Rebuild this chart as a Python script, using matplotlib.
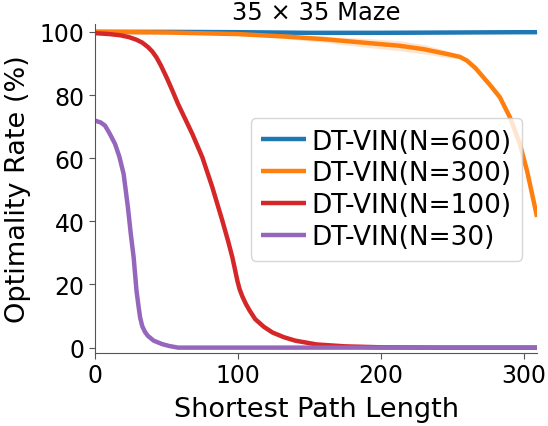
import numpy as np
import matplotlib.pyplot as plt

# values (x = shortest path length, y = optimality rate %)
x_600 = [0, 50, 100, 150, 200, 250, 300, 310]
y_600 = [100, 100, 99.9, 99.7, 99.7, 99.8, 99.9, 99.9]
band_600 = [0.1, 0.2, 0.3, 0.4, 0.4, 0.3, 0.2, 0.2]

x_300 = [0, 50, 100, 130, 160, 190, 213, 230, 248, 255, 260, 266, 271.5, 277, 283,
         290, 297, 302, 306, 309]
y_300 = [100, 99.8, 99.3, 98.6, 97.7, 96.5, 95.6, 94.5, 92.8, 92.1, 90.9, 88.5, 85.6,
         82.7, 79.3, 73, 64.5, 56, 47.7, 41.4]
band_300 = [0.1, 0.2, 0.4, 0.6, 1.0, 1.4, 1.6, 1.5, 1.0, 0.6, 0.5, 0.5, 0.5, 0.5, 0.5,
            0.5, 0.5, 0.5, 0.5, 0.5]

x_100 = [0, 10, 18, 24, 29, 33, 37, 40, 43, 46, 50, 54, 58, 68, 75, 82, 89, 93, 96, 98,
         99.5, 101, 103, 105.5, 108, 112, 118, 124, 132, 140, 155, 175, 200, 240, 310]
y_100 = [99.6, 99.3, 98.9, 98.3, 97.5, 96.6, 95.2, 93.8, 91.9, 89.4, 85.6, 81.5, 77.2,
         67.7, 60.3, 50.8, 40.2, 33.8, 28.6, 24.4, 21.2, 18.6, 16.2, 13.8, 11.8, 9, 6.6,
         4.8, 3.3, 2.2, 1.0, 0.4, 0.1, 0, 0]

x_30 = [0, 4, 7, 10, 14, 17, 20, 23, 25, 27, 29, 30.5, 31.5, 33, 35, 37, 41, 47, 52,
        58, 100, 200, 310]
y_30 = [71.9, 71.3, 70.3, 68, 64.5, 60.5, 55, 44.4, 36, 28.6, 18, 12.8, 9.6, 6.8, 4.9,
        3.7, 2.2, 1.1, 0.5, 0, 0, 0, 0]

labels = ['DT-VIN(N=600)', 'DT-VIN(N=300)', 'DT-VIN(N=100)', 'DT-VIN(N=30)']
colors = ['#1f77b4', '#ff7f0e', '#d62728', '#9467bd']

fig, ax = plt.subplots(figsize=(5.48, 4.27), dpi=100)

lw = 3.2
style = dict(lw=lw, solid_capstyle='butt', solid_joinstyle='round')
ax.plot(x_600, y_600, color=colors[0], label=labels[0], **style)
ax.fill_between(x_600, np.array(y_600) - band_600, np.array(y_600) + band_600,
                color=colors[0], alpha=0.2, lw=0)
ax.plot(x_300, y_300, color=colors[1], label=labels[1], **style)
ax.fill_between(x_300, np.array(y_300) - band_300, np.array(y_300) + band_300,
                color=colors[1], alpha=0.2, lw=0)
ax.plot(x_100, y_100, color=colors[2], label=labels[2], **style)
ax.plot(x_30, y_30, color=colors[3], label=labels[3], **style)

ax.set_xlim(0, 309)
ax.set_ylim(-1.7, 102.5)
ax.set_xticks([0, 100, 200, 300])
ax.set_yticks([0, 20, 40, 60, 80, 100])
ax.tick_params(labelsize=17, color='#555555', length=4)
ax.set_xlabel('Shortest Path Length', fontsize=19.5, labelpad=6)
ax.set_ylabel('Optimality Rate (%)', fontsize=19.5, labelpad=6)
ax.set_title('35 × 35 Maze', fontsize=17.5, pad=2)
ax.spines['top'].set_visible(False)
ax.spines['right'].set_visible(False)
for s in ['left', 'bottom']:
    ax.spines[s].set_color('#555555')

ax.legend(fontsize=19, loc='upper right', bbox_to_anchor=(0.966, 0.714),
          borderaxespad=0, handlelength=1.7, handletextpad=0.2,
          labelspacing=0.22, borderpad=0.4)

fig.subplots_adjust(left=0.1734, right=0.98, top=0.9415, bottom=0.171)
fig.savefig('out.png', dpi=100)
